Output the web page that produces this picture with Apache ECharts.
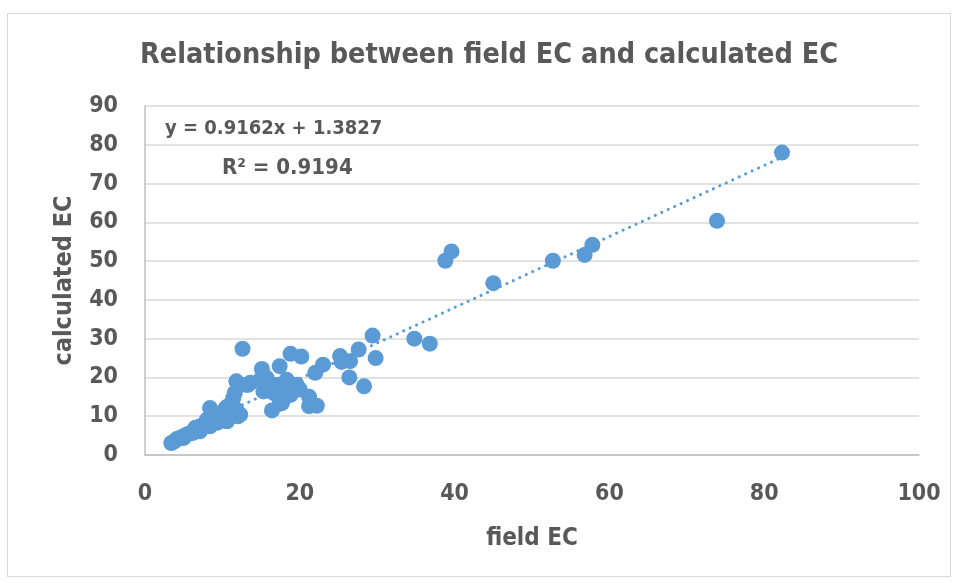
<!DOCTYPE html>
<html>
<head>
<meta charset="utf-8">
<script src="https://cdn.jsdelivr.net/npm/echarts@6/dist/echarts.min.js"></script>
<style>
html, body { margin: 0; padding: 0; background: #fff; }
#wrap { position: absolute; left: 7px; top: 13px; width: 942px; height: 562px; border: 1px solid #d9d9d9; }
#chart { position: absolute; left: 0; top: 0; width: 958px; height: 583px; }
</style>
</head>
<body>
<div id="wrap"></div>
<div id="chart"></div>
<script>
// field EC (x) / calculated EC (y)
var fieldEC = [82.3, 73.9, 57.8, 56.8, 52.7, 45.0, 39.6, 38.8, 34.8, 36.8,
	29.4, 29.8, 27.6, 26.4, 28.3, 25.2, 26.5, 25.4, 23.0, 22.0,
	18.8, 20.2, 17.4, 21.2, 21.2, 22.2, 16.4, 17.4, 15.1, 11.8,
	11.6, 15.7, 17.0, 18.3, 19.6, 20.0, 18.3, 16.6, 15.5, 14.9,
	13.6, 12.6, 8.4, 10.3, 11.2, 12.3, 11.8, 9.3, 10.1, 8.0,
	7.1, 6.5, 8.4, 7.1, 5.4, 4.9, 4.1, 3.4, 4.5, 12.0,
	9.8, 11.0, 13.1, 19.5, 18.8, 16.2, 3.8, 5.8, 10.5, 13.3,
	15.3, 11.4, 6.2, 9.3, 10.6, 5.0, 17.7, 11.6];
var calcEC = [78.0, 60.4, 54.2, 51.6, 50.1, 44.3, 52.5, 50.1, 30.0, 28.7,
	30.8, 25.0, 27.2, 20.0, 17.7, 25.5, 24.2, 24.0, 23.3, 21.2,
	26.1, 25.4, 22.9, 15.0, 12.6, 12.7, 11.5, 13.2, 22.2, 19.0,
	16.0, 19.9, 18.1, 19.4, 18.1, 16.9, 16.0, 16.0, 16.9, 19.4,
	18.6, 27.4, 12.1, 11.7, 10.8, 10.4, 11.7, 10.0, 9.1, 9.1,
	7.4, 7.0, 7.4, 6.1, 5.3, 4.8, 4.1, 3.1, 4.4, 10.0,
	8.9, 13.0, 18.1, 17.5, 15.5, 18.4, 3.5, 5.6, 12.3, 18.1,
	16.4, 14.7, 5.7, 8.3, 8.7, 4.4, 13.4, 11.3];
// trendline as printed on the chart
var slope = 0.9162, intercept = 1.3827;
var trendX = [3.4, 82.3];
var eqText = 'y = 0.9162x + 1.3827';
var r2Text = 'R² = 0.9194';

var pts = [];
for (var i = 0; i < fieldEC.length; i++) pts.push([fieldEC[i], calcEC[i]]);
var trend = [];
for (var j = 0; j < trendX.length; j++) trend.push([trendX[j], slope * trendX[j] + intercept]);

var font = '"Liberation Sans Narrow", "DejaVu Sans Condensed", sans-serif';
var grey = '#595959';
var charts = echarts.init(document.getElementById('chart'));
var option = {
	animation: false,
	title: {
		text: 'Relationship between field EC and calculated EC',
		left: 135, top: 36,
		textStyle: { fontFamily: font, fontSize: 28.5, fontWeight: 'bold', color: grey }
	},
	grid: { left: 145, right: 39, top: 106, bottom: 128 },
	xAxis: {
		type: 'value', min: 0, max: 100, interval: 20,
		name: 'field EC', nameLocation: 'middle', nameGap: 72,
		nameTextStyle: { fontFamily: font, fontSize: 24, fontWeight: 'bold', color: grey },
		axisLine: { lineStyle: { color: '#bfbfbf', width: 1.5 } },
		axisTick: { show: false },
		splitLine: { show: false },
		axisLabel: { fontFamily: font, fontSize: 23, fontWeight: 'bold', color: grey, margin: 28 }
	},
	yAxis: {
		type: 'value', min: 0, max: 90, interval: 10,
		name: 'calculated EC', nameLocation: 'middle', nameGap: 68,
		nameTextStyle: { fontFamily: font, fontSize: 25, fontWeight: 'bold', color: grey },
		axisLine: { show: true, lineStyle: { color: '#bfbfbf', width: 1.5 } },
		axisTick: { show: false },
		splitLine: { lineStyle: { color: '#d9d9d9', width: 1.5 } },
		axisLabel: { fontFamily: font, fontSize: 23, fontWeight: 'bold', color: grey, margin: 27 }
	},
	graphic: [
		{ type: 'text', left: 165, top: 119, style: { text: eqText, font: 'bold 20px ' + font, fill: grey } },
		{ type: 'text', left: 222, top: 157, style: { text: r2Text, font: 'bold 22px ' + font, fill: grey } }
	],
	series: [{
		type: 'line',
		data: trend,
		symbol: 'none',
		z: 3,
		lineStyle: { color: '#5b9bd5', width: 3, type: [0.1, 7], cap: 'round' }
	}, {
		type: 'scatter',
		data: pts,
		symbolSize: 16,
		z: 2,
		itemStyle: { color: '#5b9bd5', opacity: 1 }
	}]
};
charts.setOption(option);
</script>
</body>
</html>
